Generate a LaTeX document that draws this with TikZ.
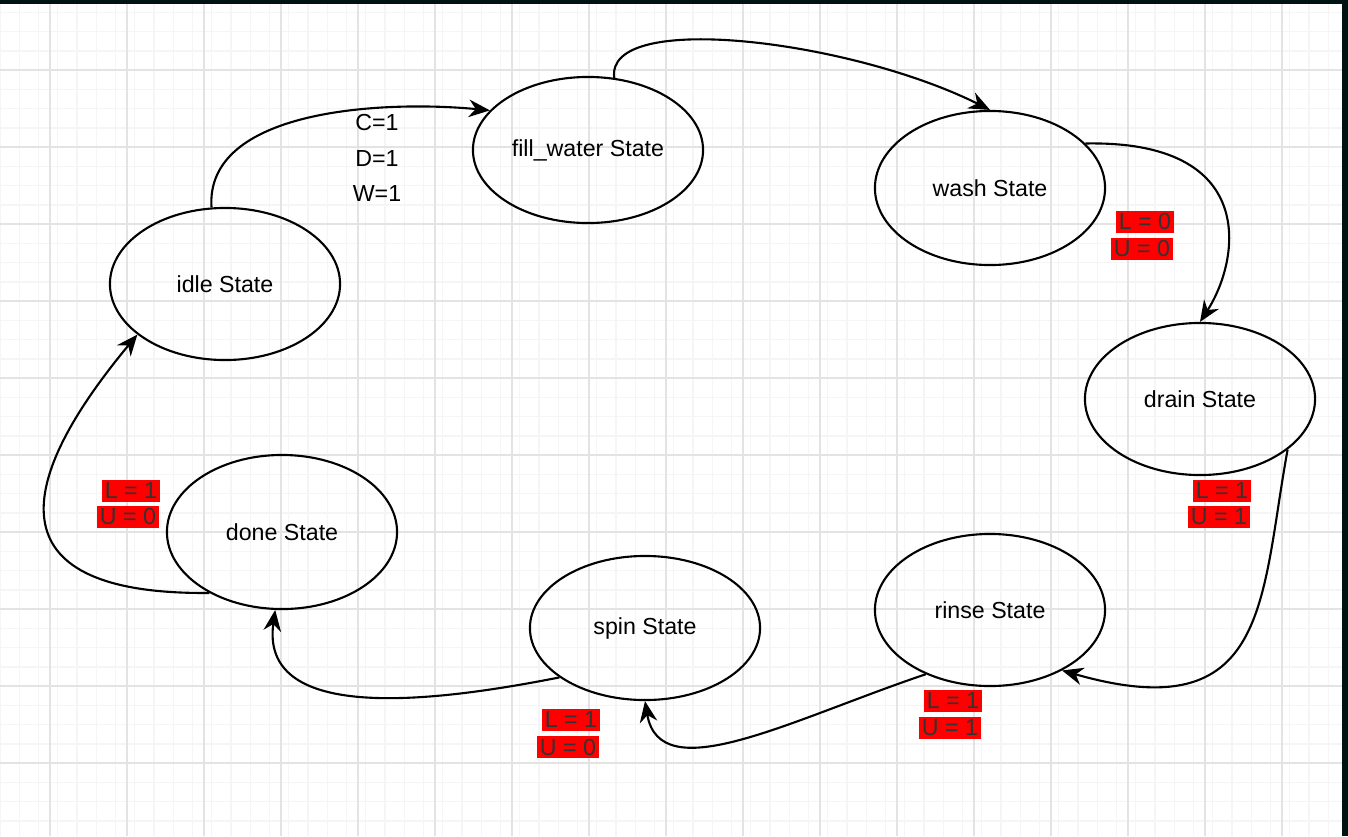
\documentclass[tikz,border=0pt]{standalone}
\usepackage{fontspec}
\setmainfont{Liberation Sans}
\usetikzlibrary{arrows.meta,shapes.geometric}
\begin{document}
\begin{tikzpicture}[x=0.01cm,y=-0.01cm,>={Stealth[length=6pt,width=5pt]},
	state/.style={draw,line width=0.6pt,ellipse,minimum width=2.3cm,inner sep=0pt,font=\fontsize{6.6}{8}\selectfont},
	flag/.style={fill=red,inner sep=0.8pt,minimum width=0.58cm,font=\fontsize{6.6}{7.5}\selectfont,text=black!80},
	trans/.style={->,line width=0.6pt}]
	\useasboundingbox (0,0) rectangle (1348,836);
	% Background grid
	\fill[white] (0,0) rectangle (1348,836);
	\foreach \x in {0,19.25,...,1348} \draw[black!4] (\x,0) -- (\x,836);
	\foreach \y in {12.5,31.75,...,836} \draw[black!4] (0,\y) -- (1348,\y);
	\foreach \x in {50,127,...,1348} \draw[black!11] (\x,0) -- (\x,836);
	\foreach \y in {70,147,...,836} \draw[black!11] (0,\y) -- (1348,\y);
	\fill[black!75!teal!60!black] (0,0) rectangle (1348,4);
	\fill[black!75!teal!60!black] (1342,0) rectangle (1348,836);

	% States
	\node [state,minimum height=1.52cm] (idle)  at (225,284) {idle State};
	\node [state,minimum height=1.46cm] (fill)  at (588,150) {fill\_water State};
	\node [state,minimum height=1.54cm] (wash)  at (990,188) {wash State};
	\node [state,minimum height=1.52cm] (drain) at (1200,399) {drain State};
	\node [state,minimum height=1.52cm] (rinse) at (990,610) {rinse State};
	\node [state,minimum height=1.44cm] (spin)  at (645,628) {spin State};
	\node [state,minimum height=1.54cm] (done)  at (282,532) {done State};

	% Transitions
	\draw [trans] (idle.100) .. controls (205,110) and (380,100) .. (fill.158);
	\draw [trans] (fill.70) .. controls (605,10) and (850,40) .. (wash.90);
	\draw [trans] (wash.25) .. controls (1260,140) and (1240,260) .. (drain.90);
	\draw [trans] (drain.-30) .. controls (1260,600) and (1270,730) .. (rinse.-40);
	\draw [trans] (rinse.-135) .. controls (790,720) and (660,790) .. (spin.-90);
	\draw [trans] (spin.-150) .. controls (420,705) and (260,720) .. (done.-95);
	\draw [trans] (done.-140) .. controls (10,595) and (0,500) .. (idle.-150);

	% Labels
	\node [font=\fontsize{6.6}{10}\selectfont,align=center] (cdw) at (377,158) {C=1\\D=1\\W=1};
	\node [flag] (l1) at (1145,222) {L = 0};
	\node [flag] (u1) at (1142,249) {U = 0};
	\node [flag] (l2) at (1222,491) {L = 1};
	\node [flag] (u2) at (1219,517) {U = 1};
	\node [flag] (l3) at (953,701) {L = 1};
	\node [flag] (u3) at (950,728) {U = 1};
	\node [flag] (l4) at (571,720) {L = 1};
	\node [flag] (u4) at (568,747) {U = 0};
	\node [flag] (l5) at (131,491) {L = 1};
	\node [flag] (u5) at (128,517) {U = 0};
\end{tikzpicture}
\end{document}
